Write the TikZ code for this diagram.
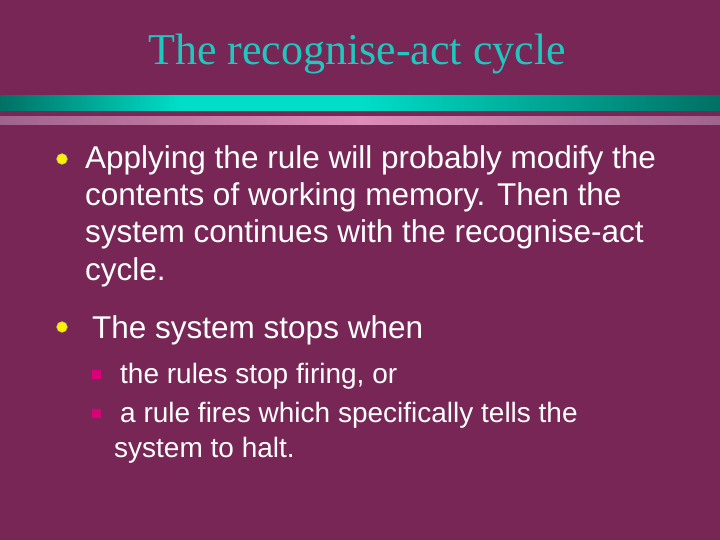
\documentclass[tikz,border=0pt]{standalone}
\usepackage{fontspec}
\setmainfont{Liberation Sans}
\newfontfamily\titlefont{Liberation Serif}
\definecolor{bg}{RGB}{120,38,86}
\definecolor{teal1}{RGB}{0,222,200}
\definecolor{teal2}{RGB}{0,112,100}
\definecolor{pink1}{RGB}{222,140,185}
\definecolor{pink2}{RGB}{160,100,140}
\definecolor{ttl}{RGB}{30,200,190}
\definecolor{yel}{RGB}{250,240,0}
\definecolor{mag}{RGB}{220,0,120}
\begin{document}
\begin{tikzpicture}[x=1pt,y=-1pt,
  body/.style={anchor=base west,inner sep=0,text=white,font=\fontsize{31.5}{36}\selectfont},
  sub/.style={anchor=base west,inner sep=0,text=white,font=\fontsize{28}{32}\selectfont},
  dot/.style={circle,fill=yel,draw=black!40,inner sep=0,minimum size=11pt},
  sq/.style={fill=mag,inner sep=0,minimum size=9pt}]
\fill[bg] (0,0) rectangle (720,540);
\useasboundingbox (0,0) rectangle (720,540);
\shade[left color=teal2,right color=teal1,middle color=teal1] (0,96) rectangle (360,111);
\shade[left color=teal1,right color=teal2] (360,96) rectangle (720,111);
\shade[left color=pink2,right color=pink1] (0,117) rectangle (360,125);
\shade[left color=pink1,right color=pink2] (360,117) rectangle (720,125);
\node[text=ttl,font=\titlefont\fontsize{44}{50}\selectfont,inner sep=0] (title) at (357,54) {The recognise-act cycle};
\node[dot] (b1) at (62,159) {};
\node[body] (l1) at (85,169) {Applying the rule will probably modify the};
\node[body] (l2) at (85,206) {contents of working memory. Then the};
\node[body] (l3) at (85,243) {system continues with the recognise-act};
\node[body] (l4) at (85,280) {cycle.};
\node[dot] (b2) at (62,327) {};
\node[body] (l5) at (92,338) {The system stops when};
\node[sq] (s1) at (96,374) {};
\node[sub] (l6) at (120,383) {the rules stop firing, or};
\node[sq] (s2) at (96,413) {};
\node[sub] (l7) at (120,422) {a rule fires which specifically tells the};
\node[sub] (l8) at (114,457) {system to halt.};
\end{tikzpicture}
\end{document}
